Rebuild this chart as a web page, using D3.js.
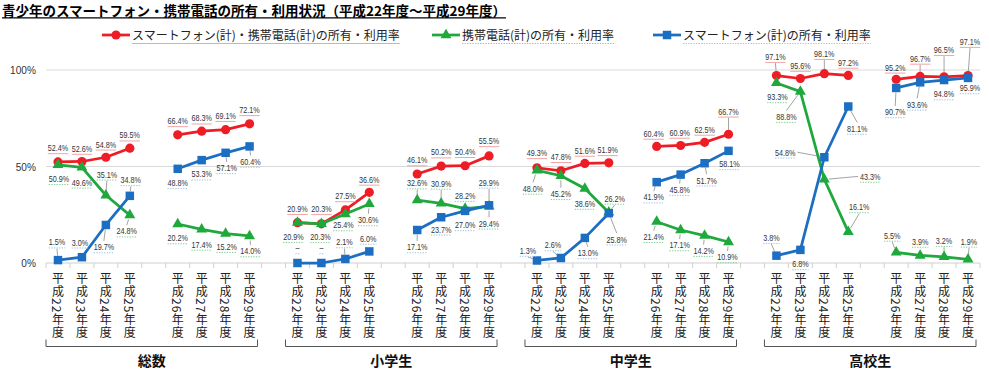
<!DOCTYPE html>
<html><head><meta charset="utf-8">
<script src="https://cdn.jsdelivr.net/npm/d3@7"></script>
<style>
html,body{margin:0;padding:0;background:#fff;}
svg{display:block;font-family:"Noto Sans CJK JP","Noto Sans",sans-serif;}
.vlabel{writing-mode:vertical-rl;text-orientation:mixed;}
</style></head><body>
<svg id="chart" width="989" height="369"></svg>
<script>
// ---------- data ----------
const chartTitle = "青少年のスマートフォン・携帯電話の所有・利用状況（平成22年度～平成29年度）";
const groups = ["総数","小学生","中学生","高校生"];
const years = ["平成22年度","平成23年度","平成24年度","平成25年度","平成26年度","平成27年度","平成28年度","平成29年度"];
const seriesNames = ["スマートフォン(計)・携帯電話(計)の所有・利用率","携帯電話(計)の所有・利用率","スマートフォン(計)の所有・利用率"];
const yTicks = [0, 50, 100];
// order: 総数 H22..H29, 小学生 H22..H29, 中学生 H22..H29, 高校生 H22..H29
const combinedRate = [52.4,52.6,54.8,59.5,66.4,68.3,69.1,72.1, 20.9,20.3,27.5,36.6,46.1,50.2,50.4,55.5, 49.3,47.8,51.6,51.9,60.4,60.9,62.5,66.7, 97.1,95.6,98.1,97.2,95.2,96.7,96.5,97.1];
const mobileRate   = [50.9,49.6,35.1,24.8,20.2,17.4,15.2,14.0, 20.9,20.3,25.4,30.6,32.6,30.9,28.2,29.4, 48.0,45.2,38.6,26.2,21.4,17.1,14.2,10.9, 93.3,88.8,43.3,16.1,5.5,3.9,3.2,1.9];
const smartRate    = [1.5,3.0,19.7,34.8,48.8,53.3,57.1,60.4, null,null,2.1,6.0,17.1,23.7,27.0,29.9, 1.3,2.6,13.0,25.8,41.9,45.8,51.7,58.1, 3.8,6.8,54.8,81.1,90.7,93.6,94.8,95.9];

// ---------- label placement (layout only) [dx, dy] relative to marker ----------
const redOffsets = [[0,-14],[0,-13],[0,-13],[0,-13],[0,-14],[0,-13],[0,-14],[0,-14],
  [0,-14],[0,-15],[0,-14],[0,-13],[0,-14],[0,-14],[0,-14],[0,-15],
  [0,-15],[0,-14],[0,-13],[-1,-13],[-3,-13],[-1,-13],[0,-13],[0,-23],
  [-1,-19],[0,-13],[0,-20],[0,-13],[-1,-12],[0,-18],[0,-27],[2,-34]];
const greenOffsets = [[1,14],[0,15],[1,-21],[-3,16],[0,14],[0,15],[1,13],[1,15],
  [-4,14],[-1,13],[-2,11],[-1,16],[0,-17],[0,-20],[0,-13],[0,17],
  [-4,18],[0,18],[0,15],[6,-14],[-3,15],[-1,15],[-1,15],[-1,15],
  [1,14],[-14,25],[46,-3],[11,-25],[-4,-17],[0,-14],[0,-16],[1,-18]];
const blueOffsets = [[-1,-18],[-2,-15],[-2,22],[1,-16],[0,14],[0,14],[1,15],[1,15],
  [0,-15],[0,-15],[-1,-17],[-1,-13],[0,17],[0,12],[0,14],[0,-23],
  [-9,-10],[-8,-13],[3,15],[8,26],[-3,15],[-1,15],[2,17],[1,13],
  [-5,-18],[0,14],[-39,-5],[9,22],[-1,24],[-3,22],[0,14],[2,10]];

// ---------- setup ----------
const svg = d3.select("#chart");
const COLORS = ["#ee1c24","#1fa83c","#1b6ec2"];
const UNDER = ["#f3a3a3","#7fcf8e","#9cc1e6"];
const UNDER_DASH = [null,"1.3,1.3","1.3,1.3"];
const series = [combinedRate, mobileRate, smartRate];
const offsets = [redOffsets, greenOffsets, blueOffsets];
const symbols = [d3.symbolCircle, d3.symbolTriangle, d3.symbolSquare];
const symSizes = [66, 52, 72];
const NUM_FONT = "Liberation Sans, Arial, sans-serif";

const slotIds = [];
groups.forEach((g, gi) => {
  years.forEach((yr, yi) => { if (yi === 4) slotIds.push(`gap-${gi}-a`); slotIds.push(`${g}|${yr}`); });
  if (gi < groups.length - 1) slotIds.push(`gap-${gi}-b`);
});
const x = d3.scaleBand().domain(slotIds).range([46, 980]).padding(0);
const bw = x.bandwidth();
const y = d3.scaleLinear().domain([0, 100]).range([263, 70]);
const cxOf = (gi, yi) => x(`${groups[gi]}|${years[yi]}`) + bw / 2;

function squeeze(sel, k) {
  const w = sel.node().getComputedTextLength();
  sel.attr("textLength", w * k).attr("lengthAdjust", "spacingAndGlyphs");
  return w * k;
}

// title
const title = svg.append("text").attr("x", 2).attr("y", 15.5)
  .attr("font-size", 13.5).attr("font-weight", "bold").attr("fill", "#000").text(chartTitle);
const tw = title.node().getComputedTextLength();
svg.append("line").attr("x1", 2).attr("x2", 2 + tw).attr("y1", 17.8).attr("y2", 17.8)
  .attr("stroke", "#000").attr("stroke-width", 1.2);

// legend
const legendX = [102, 432, 653];
seriesNames.forEach((name, s) => {
  const lg = svg.append("g");
  const lx = legendX[s];
  lg.append("line").attr("x1", lx).attr("x2", lx + 28).attr("y1", 35).attr("y2", 35)
    .attr("stroke", COLORS[s]).attr("stroke-width", 2.75);
  lg.append("path").attr("d", d3.symbol(symbols[s], symSizes[s])())
    .attr("transform", `translate(${lx + 14},35)`).attr("fill", COLORS[s]);
  const t = lg.append("text").attr("x", lx + 30).attr("y", 39.5).attr("font-size", 12)
    .attr("fill", "#222").text(name);
  const w = t.node().getComputedTextLength();
  lg.append("line").attr("x1", lx + 30).attr("x2", lx + 30 + w).attr("y1", 43.5).attr("y2", 43.5)
    .attr("stroke", UNDER[s]).attr("stroke-width", 1)
    .attr("stroke-dasharray", UNDER_DASH[s]);
});

// gridlines and y labels
yTicks.forEach(t => {
  svg.append("line").attr("x1", 46).attr("x2", 980).attr("y1", y(t)).attr("y2", y(t))
    .attr("stroke", t === 0 ? "#cfcfcf" : "#dadada").attr("stroke-width", 1);
  const lab = svg.append("text").attr("x", 36).attr("y", y(t) + 4).attr("text-anchor", "end")
    .attr("font-family", NUM_FONT).attr("font-size", 11)
    .attr("fill", "#333").text(t + "%");
  squeeze(lab, 0.92);
});
// x ticks at slot boundaries
slotIds.concat(["__end"]).forEach((id, i) => {
  const bx = i < slotIds.length ? x(id) : x.range()[1];
  svg.append("line").attr("x1", bx).attr("x2", bx).attr("y1", 263).attr("y2", 268)
    .attr("stroke", "#d0d0d0").attr("stroke-width", 1);
});

// x labels (vertical) + brackets + group names
groups.forEach((g, gi) => {
  years.forEach((yr, yi) => {
    const cx = cxOf(gi, yi);
    svg.append("text").attr("class", "vlabel").attr("x", cx).attr("y", 272)
      .attr("font-size", 12).attr("letter-spacing", 1).attr("fill", "#222").text(yr);
  });
  const x0 = x(`${g}|${years[0]}`);
  const x1 = x(`${g}|${years[years.length - 1]}`) + bw - 4;
  svg.append("path").attr("d", `M${x0},339.5 L${x0},346.5 L${x1},346.5 L${x1},339.5`)
    .attr("fill", "none").attr("stroke", "#555").attr("stroke-width", 1);
  svg.append("text").attr("x", (x0 + x1) / 2).attr("y", 365.5).attr("text-anchor", "middle")
    .attr("font-size", 14).attr("font-weight", "bold").attr("fill", "#111").text(g);
});

// points data
const pts = series.map((vals, s) => vals.map((v, idx) => {
  const gi = Math.floor(idx / years.length), yi = idx % years.length;
  return { s, gi, yi, v, cx: cxOf(gi, yi), cy: y(v == null ? 0 : v), off: offsets[s][idx] };
}));

const leaderG = svg.append("g");
const lineG = svg.append("g");
const labelG = svg.append("g");

pts.forEach((arr, s) => {
  groups.forEach((g, gi) => {
    [[0, 4], [4, 8]].forEach(([a, b]) => {
      const seg = arr.filter(p => p.gi === gi && p.yi >= a && p.yi < b);
      lineG.append("path").attr("d", d3.line().x(p => p.cx).y(p => p.cy)(seg))
        .attr("fill", "none").attr("stroke", COLORS[s]).attr("stroke-width", 2.75)
        .attr("stroke-linejoin", "round");
    });
  });
  arr.forEach(p => {
    lineG.append("path").attr("d", d3.symbol(symbols[s], symSizes[s])())
      .attr("transform", `translate(${p.cx},${p.cy})`).attr("fill", COLORS[s]);
  });
  arr.forEach(p => {
    const lx = p.cx + p.off[0], ly = p.cy + p.off[1];
    const txt = p.v == null ? "–" : p.v.toFixed(1) + "%";
    const t = labelG.append("text").attr("x", lx).attr("y", ly + 3.3)
      .attr("text-anchor", "middle").attr("font-family", NUM_FONT)
      .attr("font-size", 9).attr("fill", "#333").text(txt);
    const w = squeeze(t, 0.8);
    labelG.append("line").attr("x1", lx - w / 2).attr("x2", lx + w / 2)
      .attr("y1", ly + 5.8).attr("y2", ly + 5.8).attr("stroke", UNDER[s]).attr("stroke-width", 1)
      .attr("stroke-dasharray", UNDER_DASH[s]);
    const dx = p.off[0], dy = p.off[1];
    let ex, ey;
    if (Math.abs(dx) > 20) { ex = lx + (dx > 0 ? -(w / 2 + 2) : (w / 2 + 2)); ey = ly; }
    else { ex = lx; ey = dy < 0 ? ly + 6.5 : ly - 6; }
    const dist = Math.hypot(ex - p.cx, ey - p.cy);
    if (dist > 9) {
      const k = 4.5 / dist;
      leaderG.append("line").attr("x1", p.cx + (ex - p.cx) * k).attr("y1", p.cy + (ey - p.cy) * k)
        .attr("x2", ex).attr("y2", ey).attr("stroke", "#8a8a8a").attr("stroke-width", 0.8);
    }
  });
});
</script>
</body></html>
